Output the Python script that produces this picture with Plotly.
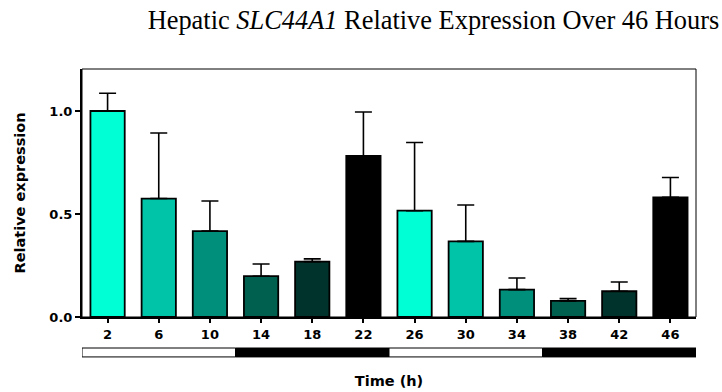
import plotly.graph_objects as go

# Sampling times (hours) and hepatic SLC44A1 relative expression (mean, SEM)
hours = [2, 6, 10, 14, 18, 22, 26, 30, 34, 38, 42, 46]
tick_labels = ["2", "6", "10", "14", "18", "22", "26", "30", "34", "38", "42", "46"]
mean_expr = [1.0, 0.575, 0.417, 0.198, 0.269, 0.782, 0.516, 0.367, 0.133, 0.078, 0.125, 0.581]
sem_expr = [0.086, 0.318, 0.146, 0.059, 0.013, 0.213, 0.331, 0.177, 0.056, 0.011, 0.045, 0.096]
bar_colors = ["#00FFD5", "#00C4A8", "#008F7A", "#00604F", "#00332B", "#000000"] * 2

# Light/dark cycle (start hour, end hour, phase)
phase_start = [0, 12, 24, 36]
phase_end = [12, 24, 36, 48]
phase_kind = ["light", "dark", "light", "dark"]

axis_font = dict(family="DejaVu Sans, sans-serif", size=13, color="black")
title_font = dict(family="DejaVu Sans, sans-serif", size=14.5, color="black")

fig = go.Figure()
fig.add_trace(go.Bar(
    x=hours,
    y=mean_expr,
    marker=dict(color=bar_colors, line=dict(color="black", width=1.8)),
    error_y=dict(type="data", array=sem_expr, arrayminus=[0] * len(sem_expr),
                 symmetric=False, color="black", thickness=1.6, width=8.5),
    showlegend=False,
))

shapes = [
    # thin frame around the plotting area
    dict(type="rect", xref="paper", yref="paper", x0=0, x1=1, y0=0, y1=1,
         line=dict(color="black", width=1), fillcolor="rgba(0,0,0,0)", layer="above"),
]
for s, e, k in zip(phase_start, phase_end, phase_kind):
    shapes.append(dict(
        type="rect", xref="x", yref="paper", x0=s, x1=e, y0=-0.161, y1=-0.125,
        line=dict(color="black", width=1),
        fillcolor="white" if k == "light" else "black",
    ))

fig.update_layout(
    width=722, height=392,
    margin=dict(l=82, r=26, t=69, b=75, autoexpand=False),
    paper_bgcolor="white", plot_bgcolor="white",
    bargap=0.33,
    title=dict(
        text="Hepatic <i>SLC44A1</i> Relative Expression Over 46 Hours",
        font=dict(family="Liberation Serif, Times New Roman, serif", size=26.4, color="black"),
        x=0.6004, xanchor="center", xref="container",
        y=0.972, yanchor="top", yref="container",
    ),
    shapes=shapes,
    xaxis=dict(
        range=[0, 48], automargin=False,
        tickmode="array", tickvals=hours, ticktext=[f"<b>{t}</b>" for t in tick_labels],
        ticks="outside", ticklen=4, tickwidth=1.5, tickcolor="black",
        showline=True, linecolor="black", linewidth=2,
        showgrid=False, zeroline=False,
        tickfont=axis_font,
        title=dict(text="<b>Time (h)</b>", font=title_font, standoff=35),
    ),
    yaxis=dict(
        range=[0, 1.204], automargin=False,
        tickmode="array", tickvals=[0, 0.5, 1.0],
        ticktext=["<b>0.0</b>", "<b>0.5</b>", "<b>1.0</b>"],
        ticks="outside", ticklen=5, tickwidth=2, tickcolor="black",
        showline=True, linecolor="black", linewidth=2,
        showgrid=False, zeroline=False,
        tickfont=axis_font,
        title=dict(text="<b>Relative expression</b>", font=title_font, standoff=20),
    ),
)

fig.write_html("out.html")
